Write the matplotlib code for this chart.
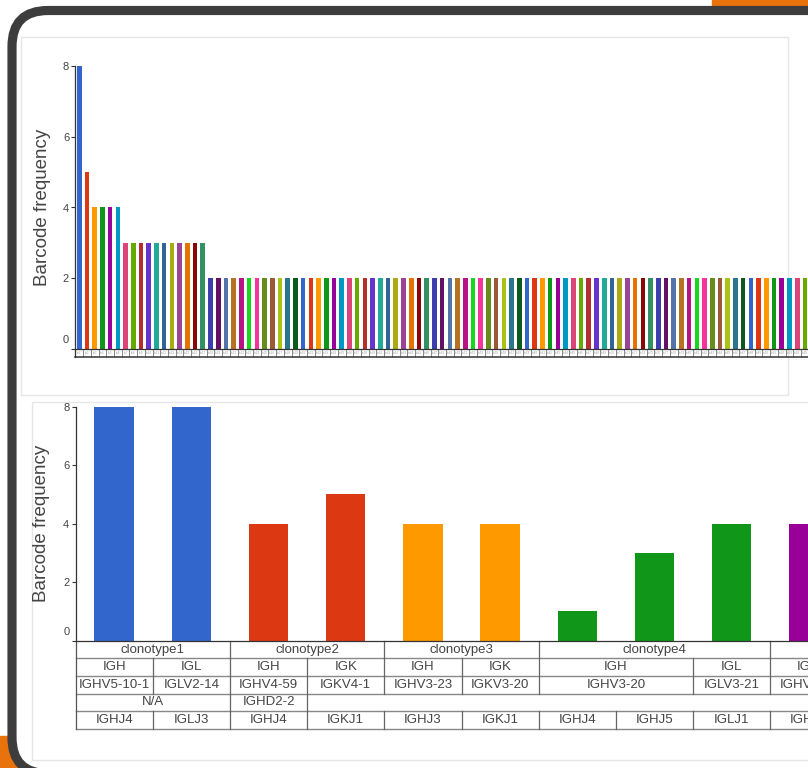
import matplotlib
matplotlib.use('Agg')
import matplotlib.pyplot as plt
import matplotlib.patches as mpatches
import matplotlib.transforms as mtransforms

plt.rcParams['font.family'] = ['Liberation Sans', 'DejaVu Sans']

W, H = 808, 768

# colour cycle
palette = ['#3366cc', '#dc3912', '#ff9900', '#109618', '#990099', '#0099c6',
           '#dd4477', '#66aa00', '#b82e2e', '#6633cc', '#22aa99', '#316395',
           '#aaaa11', '#994499', '#e67300', '#8b0707', '#329262', '#3b3eac',
           '#651067', '#5574a6', '#b77322', '#b91383', '#16d620', '#f4359e',
           '#668d1c', '#9c5935', '#a9c413', '#2a778d', '#0c5922']

# top chart: barcode frequency per clonotype (visible part only)
top_freq = [8, 5, 4, 4, 4, 4,
            3, 3, 3, 3, 3, 3, 3, 3, 3, 3, 3,
            2, 2, 2, 2, 2, 2, 2, 2, 2, 2, 2, 2, 2, 2, 2, 2, 2, 2, 2, 2, 2, 2, 2, 2, 2, 2,
            2, 2, 2, 2, 2, 2, 2, 2, 2, 2, 2, 2, 2, 2, 2, 2, 2, 2, 2, 2, 2, 2, 2, 2, 2, 2,
            2, 2, 2, 2, 2, 2, 2, 2, 2, 2, 2, 2, 2, 2, 2, 2, 2, 2, 2, 2, 2, 2, 2, 2, 2, 2]
top_labels = ['bc%d' % (i + 1) for i in range(len(top_freq))]

# bottom chart: one bar per chain
chain_freq = [8, 8, 4, 5, 4, 4, 1, 3, 4, 4]
chain_clono = [0, 0, 1, 1, 2, 2, 3, 3, 3, 4]
clono_colors = ['#3366cc', '#dc3912', '#ff9900', '#109618', '#990099']

# table rows under the bottom chart: (text, number of cells spanned)
row_clono = [('clonotype1', 2), ('clonotype2', 2), ('clonotype3', 2), ('clonotype4', 3), ('clonotype5', 2)]
row_chain = [('IGH', 1), ('IGL', 1), ('IGH', 1), ('IGK', 1), ('IGH', 1), ('IGK', 1),
             ('IGH', 2), ('IGL', 1), ('IGH', 1), ('IGK', 1)]
row_v = [('IGHV5-10-1', 1), ('IGLV2-14', 1), ('IGHV4-59', 1), ('IGKV4-1', 1), ('IGHV3-23', 1),
         ('IGKV3-20', 1), ('IGHV3-20', 2), ('IGLV3-21', 1), ('IGHV3-33', 1), ('IGKV1-5', 1)]
row_d = [('N/A', 2), ('IGHD2-2', 1)]
row_j = [('IGHJ4', 1), ('IGLJ3', 1), ('IGHJ4', 1), ('IGKJ1', 1), ('IGHJ3', 1), ('IGKJ1', 1),
         ('IGHJ4', 1), ('IGHJ5', 1), ('IGLJ1', 1), ('IGHJ4', 1), ('IGKJ1', 1)]
table_rows = [row_clono, row_chain, row_v, row_d, row_j]


def px_box(x0, y0, x1, y1):
    # pixel box (top-left origin) -> figure fraction rect
    return [x0 / W, 1 - y1 / H, (x1 - x0) / W, (y1 - y0) / H]


fig = plt.figure(figsize=(W / 100, H / 100), dpi=100)

# ---- background: device frame and panels ----
bg = fig.add_axes([0, 0, 1, 1], zorder=0)
bg.set_xlim(0, W)
bg.set_ylim(H, 0)
bg.axis('off')
bg.add_patch(mpatches.Rectangle((712, 0), 120, 9, color='#e8720c'))
bg.add_patch(mpatches.Rectangle((0, 736), 30, 40, color='#e8720c'))
bg.add_patch(mpatches.FancyBboxPatch((12, 10.5), 900, 763,
                                     boxstyle='round,pad=0,rounding_size=36',
                                     facecolor='white', edgecolor='#3d3d3d', linewidth=6.6))
bg.add_patch(mpatches.Rectangle((20.5, 36.5), 767, 358.5, fill=False, edgecolor='#e6e6e6', lw=1))
bg.add_patch(mpatches.Rectangle((31.5, 401.5), 800, 358.5, fill=False, edgecolor='#e6e6e6', lw=1))

axis_col = '#333333'
text_col = '#444444'


def style_axes(ax):
    for s in ['top', 'right']:
        ax.spines[s].set_visible(False)
    ax.spines['left'].set_color(axis_col)
    ax.spines['bottom'].set_color(axis_col)
    ax.spines['left'].set_linewidth(0.9)
    ax.spines['bottom'].set_linewidth(0.9)
    ax.set_xticks([])
    ax.set_yticks([0, 2, 4, 6, 8])
    ax.set_ylim(0, 8)
    ax.tick_params(axis='y', length=3, width=0.8, color=axis_col, labelsize=8,
                   labelcolor=text_col, pad=1.5)
    ax.set_ylabel('Barcode frequency', fontsize=13.5, color=text_col)
    lab0 = ax.yaxis.get_major_ticks()[0].label1
    lab0.set_transform(lab0.get_transform() +
                       mtransforms.ScaledTranslation(0, 0.10, fig.dpi_scale_trans))
    ax.patch.set_alpha(0)


# ---- top chart ----
n_top = len(top_freq)
ax1 = fig.add_axes(px_box(75.4, 66, 75.4 + n_top * 7.72, 349), zorder=2)
xs = list(range(n_top))
ax1.bar(xs, top_freq, width=0.6, color=[palette[i % len(palette)] for i in xs])
ax1.set_xlim(-0.5, n_top - 0.5)
style_axes(ax1)
ax1.yaxis.set_label_coords(-32.9 / (n_top * 7.72), 0.5)
ax1.yaxis.label.set_va('center')

tr1 = mtransforms.blended_transform_factory(ax1.transData, ax1.transAxes)
box_h = 8 / 283
ax1.vlines([i - 0.5 for i in range(n_top + 1)], -box_h, 0, transform=tr1,
           colors='#777777', lw=0.6, clip_on=False)
ax1.plot([-0.5, n_top - 0.5], [-box_h, -box_h], transform=tr1, color=axis_col,
         lw=1.1, clip_on=False)
ax1.plot([-0.5, -0.5], [0, -box_h], transform=tr1, color=axis_col, lw=0.9, clip_on=False)
for i, lab in enumerate(top_labels):
    ax1.text(i, -box_h / 2, lab, transform=tr1, fontsize=2, color='#999999',
             ha='center', va='center', clip_on=False)

# ---- bottom chart ----
n_cells = 10
cell_px = 77.2
ax2 = fig.add_axes(px_box(75.5, 406.7, 75.5 + n_cells * cell_px, 640.7), zorder=2)
xs2 = list(range(len(chain_freq)))
ax2.bar(xs2, chain_freq, width=0.51, color=[clono_colors[c] for c in chain_clono])
ax2.set_xlim(-0.5, n_cells - 0.5)
style_axes(ax2)
ax2.yaxis.set_label_coords(-33.5 / (n_cells * cell_px), 0.5)
ax2.yaxis.label.set_va('center')

tr2 = mtransforms.blended_transform_factory(ax2.transData, ax2.transAxes)
rh = 17.6 / 234
n_rows = len(table_rows)
for r in range(1, n_rows + 1):
    ax2.plot([-0.5, 12], [-r * rh, -r * rh], transform=tr2, color='#888888',
             lw=1.0, clip_on=False)
ax2.plot([-0.5, -0.5], [0, -n_rows * rh], transform=tr2, color='#555555',
         lw=0.9, clip_on=False)
for r, row in enumerate(table_rows):
    y_top, y_bot = -r * rh, -(r + 1) * rh
    start = -0.5
    for text, span in row:
        end = start + span
        ax2.plot([end, end], [y_top, y_bot], transform=tr2, color='#666666',
                 lw=0.9, clip_on=False)
        ax2.text((start + end) / 2, (y_top + y_bot) / 2, text, transform=tr2,
                 fontsize=9.5, color=text_col, ha='center', va='center', clip_on=False)
        start = end

fig.savefig('out.png', dpi=100)
